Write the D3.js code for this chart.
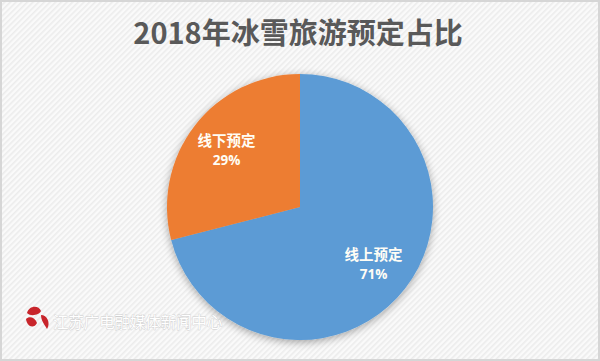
<!DOCTYPE html>
<html>
<head>
<meta charset="utf-8">
<script src="https://cdn.jsdelivr.net/npm/d3@7"></script>
<style>
html,body{margin:0;padding:0;background:#fff;}
svg{display:block;}
</style>
</head>
<body>
<svg id="chart" width="600" height="361"></svg>
<script>
const title = "2018年冰雪旅游预定占比";
const categories = ["线上预定", "线下预定"];
const values = [71, 29];
const colors = ["#5B9BD5", "#ED7D31"];
const watermark = "江苏广电融媒体新闻中心";

const W = 600, H = 361;
const svg = d3.select("#chart");
const defs = svg.append("defs");

const pat = defs.append("pattern").attr("id", "stripes")
  .attr("patternUnits", "userSpaceOnUse").attr("width", 4).attr("height", 4)
  .attr("patternTransform", "rotate(45)");
pat.append("rect").attr("width", 4).attr("height", 4).attr("fill", "#fafafa");
pat.append("rect").attr("width", 1.6).attr("height", 4).attr("fill", "#ececec");

const sh = defs.append("filter").attr("id", "shadow")
  .attr("x", "-20%").attr("y", "-20%").attr("width", "140%").attr("height", "140%");
sh.append("feGaussianBlur").attr("in", "SourceAlpha").attr("stdDeviation", 4).attr("result", "b");
sh.append("feOffset").attr("in", "b").attr("dx", 0).attr("dy", 2).attr("result", "o");
sh.append("feComponentTransfer").attr("in", "o").attr("result", "o2")
  .append("feFuncA").attr("type", "linear").attr("slope", 0.35);
const m = sh.append("feMerge");
m.append("feMergeNode").attr("in", "o2");
m.append("feMergeNode").attr("in", "SourceGraphic");

svg.append("rect").attr("width", W).attr("height", H).attr("fill", "url(#stripes)");
svg.append("rect").attr("x", 1).attr("y", 1).attr("width", W - 2).attr("height", H - 2)
  .attr("fill", "none").attr("stroke", "#d6d6d6").attr("stroke-width", 2);

svg.append("text").attr("x", 298).attr("y", 44).attr("text-anchor", "middle")
  .attr("font-family", "'Noto Sans CJK SC', sans-serif").attr("font-weight", "bold")
  .attr("font-size", 29).attr("fill", "#595959").text(title);

const cx = 300, cy = 207, r = 133;
const pie = d3.pie().sort(null).value(d => d)(values);
const arc = d3.arc().innerRadius(0).outerRadius(r);
const labelArc = d3.arc().innerRadius(93).outerRadius(93);

const g = svg.append("g").attr("transform", `translate(${cx},${cy})`);
g.append("g").attr("filter", "url(#shadow)")
  .selectAll("path").data(pie).join("path")
  .attr("d", arc).attr("fill", (d, i) => colors[i]);

const lab = g.selectAll("g.lab").data(pie).join("g").attr("class", "lab")
  .attr("transform", d => { const c = labelArc.centroid(d); return `translate(${c[0]},${c[1]})`; });
lab.append("text").attr("text-anchor", "middle").attr("y", -4)
  .attr("font-family", "'Noto Sans CJK SC', sans-serif").attr("font-weight", "bold")
  .attr("font-size", 14.5).attr("fill", "#fffdf5")
  .text((d, i) => categories[i]);
lab.append("text").attr("text-anchor", "middle").attr("y", 15)
  .attr("font-family", "'Open Sans', 'Noto Sans', sans-serif").attr("font-weight", "bold")
  .attr("font-size", 13.5).attr("fill", "#fffdf5")
  .text(d => d.data + "%");

// watermark
const wm = svg.append("g").attr("transform", "translate(37,319)");
wm.append("path").attr("d", "M-10,-6 C-8,-14 2,-14 4,-8 C2,-4 -6,-2 -10,-6 Z").attr("fill", "#c8252b");
wm.append("path").attr("d", "M-11,0 C-8,-3 -2,-2 0,4 C-3,10 -10,8 -11,0 Z").attr("fill", "#c8252b");
wm.append("path").attr("d", "M4,-4 C10,-4 14,4 10,10 C8,6 4,2 4,-4 Z").attr("fill", "#c8252b");
svg.append("text").attr("x", 53).attr("y", 328)
  .attr("font-family", "'Noto Sans CJK SC', sans-serif").attr("font-size", 15.4)
  .attr("fill", "#ffffff").attr("stroke", "#cfcfcf").attr("stroke-width", 0.8)
  .attr("paint-order", "stroke").text(watermark);
</script>
</body>
</html>
